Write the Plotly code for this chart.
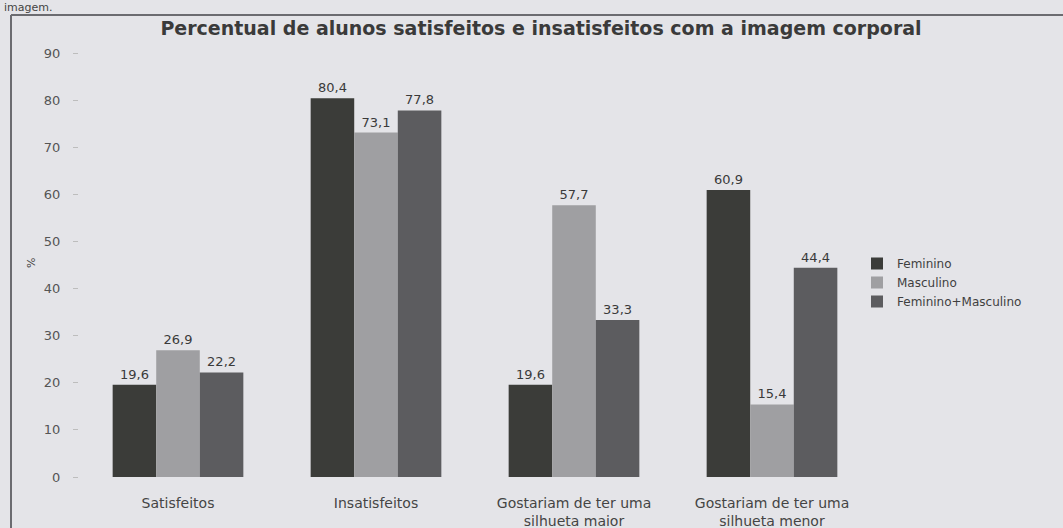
import plotly.graph_objects as go

categories = ["Satisfeitos", "Insatisfeitos", "Gostariam de ter uma<br>silhueta maior", "Gostariam de ter uma<br>silhueta menor"]
feminino = [19.6, 80.4, 19.6, 60.9]
masculino = [26.9, 73.1, 57.7, 15.4]
fem_masc = [22.2, 77.8, 33.3, 44.4]
series_names = ["Feminino", "Masculino", "Feminino+Masculino"]
colors = ["#3b3c39", "#9f9fa2", "#5c5c5f"]

W, H = 1063, 528
BG = "#e4e4e8"
# plot area in page pixels
L, R, T, B = 79, 871, 53, 477
FONT = "DejaVu Sans, Liberation Sans, Arial, sans-serif"

fig = go.Figure()
for name, vals, c in zip(series_names, [feminino, masculino, fem_masc], colors):
    fig.add_trace(go.Bar(
        x=categories, y=vals, name=name, marker=dict(color=c, line=dict(width=0)),
        texttemplate="%{y:.1f}", textposition="outside", cliponaxis=False,
        textfont=dict(size=13, color="#3a3a3a", family=FONT),
    ))

def px_x(p):
    return (p - L) / (R - L)

def px_y(p):
    return (B - p) / (B - T)

fig.update_layout(
    width=W, height=H,
    margin=dict(l=L, r=W - R, t=T, b=H - B, autoexpand=False),
    paper_bgcolor=BG, plot_bgcolor=BG,
    barmode="group", bargap=0.34, bargroupgap=0,
    separators=", ",
    font=dict(family=FONT, color="#3f3f3f", size=13),
    title=dict(text="<b>Percentual de alunos satisfeitos e insatisfeitos com a imagem corporal</b>",
               x=541 / W, xanchor="center", y=1 - 28 / H, yanchor="middle",
               font=dict(size=19, color="#3a3a3a", family=FONT)),
    showlegend=True,
    legend=dict(x=px_x(857), y=px_y(249), xanchor="left", yanchor="top",
                bgcolor="rgba(0,0,0,0)", font=dict(size=12, color="#3f3f3f", family=FONT),
                itemwidth=30, tracegroupgap=0),
    xaxis=dict(showline=False, ticks="", automargin=False, ticklabelstandoff=16,
               tickfont=dict(size=14, color="#444", family=FONT)),
    yaxis=dict(range=[0, 90], dtick=10, showgrid=False, zeroline=False, showline=False,
               ticks="outside", ticklen=5, tickcolor="#bdbdbd", automargin=False,
               ticklabelstandoff=10,
               tickfont=dict(size=13, color="#555", family=FONT)),
    shapes=[
        dict(type="line", xref="paper", yref="paper", x0=px_x(11), x1=px_x(11),
             y0=px_y(15), y1=px_y(560), line=dict(color="#6b6b70", width=2)),
        dict(type="line", xref="paper", yref="paper", x0=px_x(11), x1=px_x(1090),
             y0=px_y(15), y1=px_y(15), line=dict(color="#6b6b70", width=2)),
    ],
    annotations=[
        dict(text="imagem.", xref="paper", yref="paper", x=px_x(2), y=px_y(7),
             xanchor="left", yanchor="middle", showarrow=False,
             font=dict(size=11, color="#444", family=FONT)),
        dict(text="%", xref="paper", yref="paper", x=px_x(31), y=px_y(263),
             xanchor="center", yanchor="middle", showarrow=False, textangle=-90,
             font=dict(size=11, color="#444", family=FONT)),
    ],
)

fig.write_html(
    "out.html",
    config={"displayModeBar": False},
    post_script=f"document.body.style.margin='0';document.body.style.background='{BG}';",
)
